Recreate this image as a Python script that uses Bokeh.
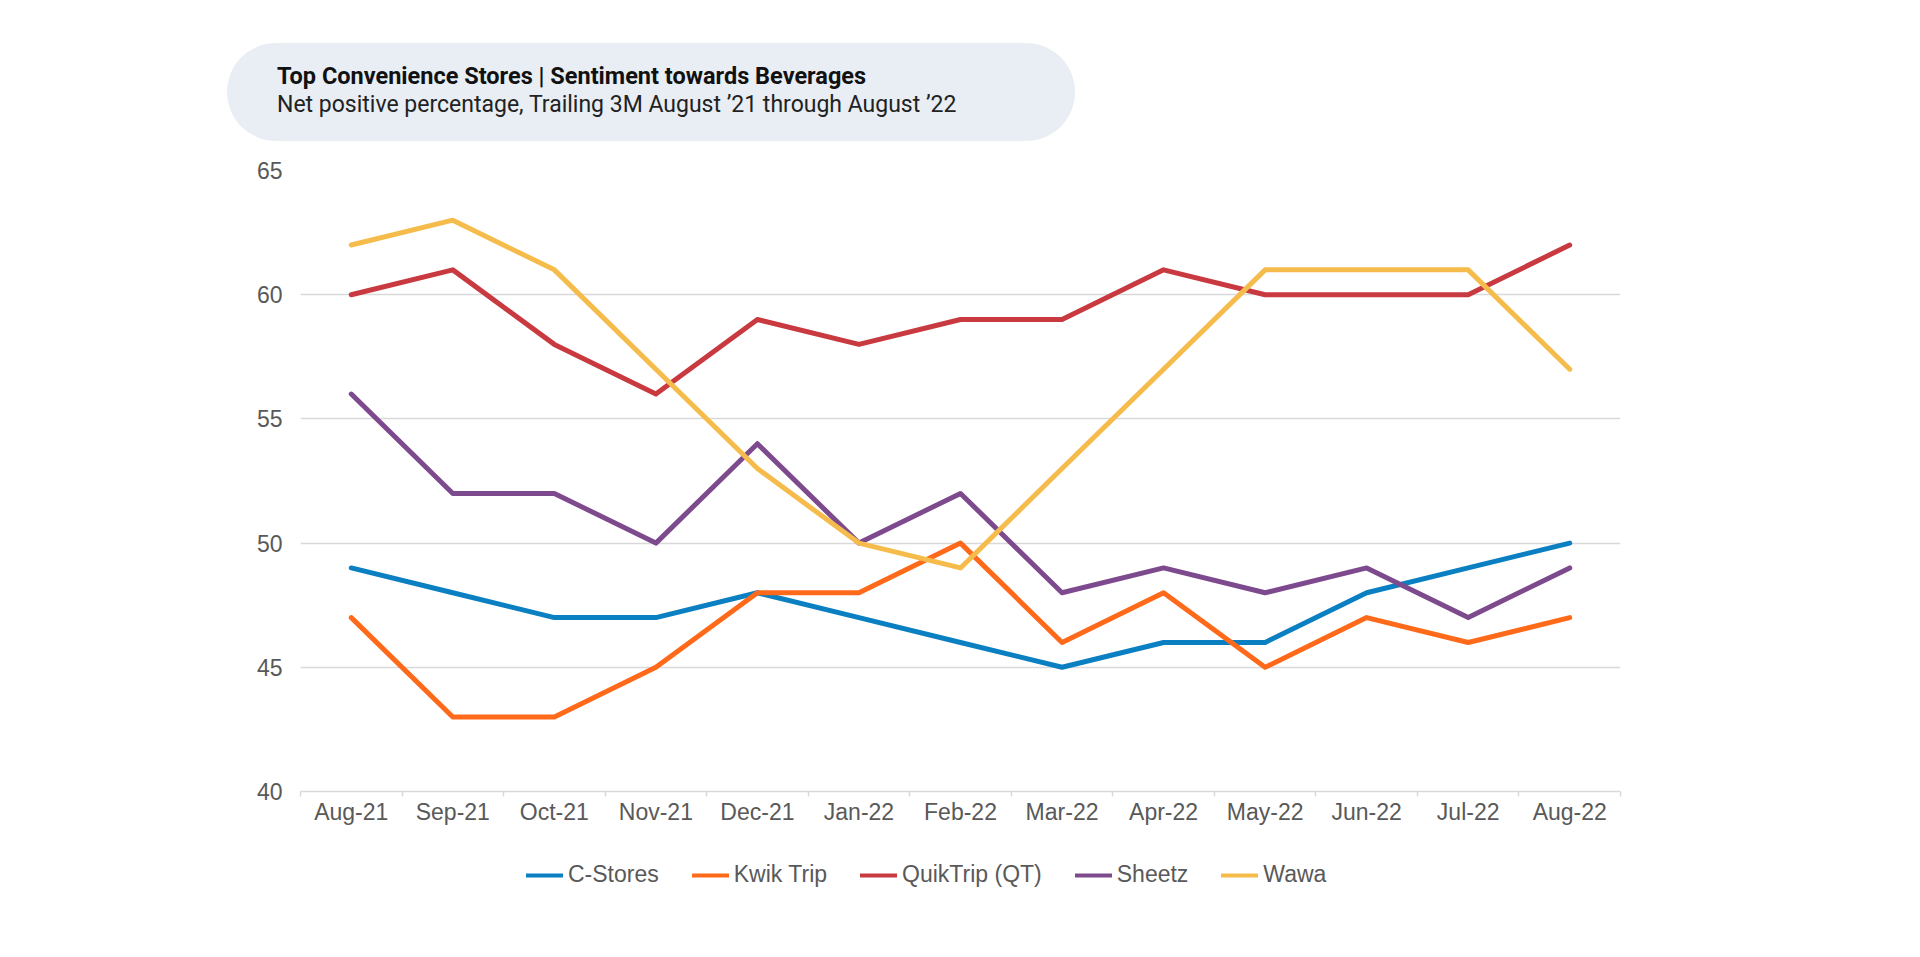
from bokeh.plotting import figure
from bokeh.layouts import column
from bokeh.models import (Range1d, FixedTicker, Legend, LegendItem, Div,
                          ColumnDataSource)
from bokeh.embed import file_html
from bokeh.resources import INLINE

# ---------------- data ----------------
months = ["Aug-21", "Sep-21", "Oct-21", "Nov-21", "Dec-21", "Jan-22", "Feb-22",
          "Mar-22", "Apr-22", "May-22", "Jun-22", "Jul-22", "Aug-22"]
c_stores = [49, 48, 47, 47, 48, 47, 46, 45, 46, 46, 48, 49, 50]
kwik_trip = [47, 43, 43, 45, 48, 48, 50, 46, 48, 45, 47, 46, 47]
quiktrip = [60, 61, 58, 56, 59, 58, 59, 59, 61, 60, 60, 60, 62]
sheetz = [56, 52, 52, 50, 54, 50, 52, 48, 49, 48, 49, 47, 49]
wawa = [62, 63, 61, 57, 53, 50, 49, 53, 57, 61, 61, 61, 57]
series_names = ["C-Stores", "Kwik Trip", "QuikTrip (QT)", "Sheetz", "Wawa"]
series_values = [c_stores, kwik_trip, quiktrip, sheetz, wawa]
y_ticks = [40, 45, 50, 55, 60, 65]
title_text = "Top Convenience Stores | Sentiment towards Beverages"
subtitle_text = "Net positive percentage, Trailing 3M August \u201921 through August \u201922"

# ---------------- styles ----------------
colors = ["#0A7FC1", "#FF6A1A", "#C83A40", "#7E4A8E", "#F6BC4B"]
TXT = "#595959"
GRID = "#D9D9D9"
FONT = "Liberation Sans"

W = 1904
HEAD_H = 150
ML, MR = 300, 284
FW, FH = W - ML - MR, 621
MT, MB = 20, 48
MAIN_H = MT + FH + MB
FOOT_H = 100

# ---------------- header (title pill) ----------------
header_html = (
    '<div style="position:relative;width:%dpx;height:%dpx;margin:0;padding:0;">'
    '<div style="position:absolute;left:227px;top:43px;width:848px;height:98px;'
    'border-radius:49px;background:#E8EEF4;"></div>'
    '<div style="position:absolute;left:277px;top:65px;font-family:Roboto;'
    'font-weight:bold;font-size:23.5px;line-height:23.5px;color:#111111;white-space:nowrap;">%s</div>'
    '<div style="position:absolute;left:277px;top:93px;font-family:Roboto;'
    'font-weight:normal;font-size:23px;line-height:23px;color:#222222;white-space:nowrap;">%s</div>'
    '</div>'
) % (W, HEAD_H, title_text, subtitle_text)
head = Div(text=header_html, width=W, height=HEAD_H, margin=0)

# ---------------- main chart ----------------
p = figure(width=W, height=MAIN_H, output_backend="svg", toolbar_location=None,
           x_range=Range1d(-0.5, len(months) - 0.5),
           y_range=Range1d(y_ticks[0], y_ticks[-1]),
           min_border_left=ML, min_border_right=MR,
           min_border_top=MT, min_border_bottom=MB, margin=0)
p.outline_line_color = None

xs = list(range(len(months)))

xa = p.xaxis[0]
xa.ticker = FixedTicker(ticks=xs, minor_ticks=[i - 0.5 for i in range(len(months) + 1)])
xa.major_label_overrides = {i: m for i, m in enumerate(months)}
xa.major_tick_line_color = None
xa.major_tick_out = 0
xa.major_tick_in = 0
xa.minor_tick_line_color = GRID
xa.minor_tick_line_width = 1.5
xa.minor_tick_out = 5
xa.minor_tick_in = 0
xa.axis_line_color = GRID
xa.axis_line_width = 1.5
xa.major_label_text_font = FONT
xa.major_label_text_font_size = "23px"
xa.major_label_text_color = TXT
xa.major_label_standoff = 2

ya = p.yaxis[0]
ya.ticker = FixedTicker(ticks=y_ticks)
ya.axis_line_color = None
ya.major_tick_line_color = None
ya.minor_tick_line_color = None
ya.major_tick_out = 0
ya.major_tick_in = 0
ya.major_label_text_font = FONT
ya.major_label_text_font_size = "23px"
ya.major_label_text_color = TXT
ya.major_label_standoff = 18

p.xgrid.grid_line_color = None
p.ygrid.grid_line_color = GRID
p.ygrid.grid_line_width = 1.5

for vals, col in zip(series_values, colors):
    src = ColumnDataSource(dict(x=xs, y=vals))
    p.line("x", "y", source=src, line_color=col, line_width=5,
           line_cap="round", line_join="round")

# ---------------- footer legend ----------------
# legend lives in its own strip; its key lines use the same series but the
# strip's y-range keeps them out of view so only the legend shows
foot = figure(width=W, height=FOOT_H, output_backend="svg", toolbar_location=None,
              x_range=Range1d(-0.5, len(months) - 0.5), y_range=Range1d(0, 1),
              x_axis_type=None, y_axis_type=None,
              min_border_left=ML, min_border_right=MR,
              min_border_top=0, min_border_bottom=0, margin=0)
foot.outline_line_color = None
foot.xgrid.visible = False
foot.ygrid.visible = False
items = []
for name, vals, col in zip(series_names, series_values, colors):
    src = ColumnDataSource(dict(x=xs, y=vals))
    r = foot.line("x", "y", source=src, line_color=col, line_width=4,
                  line_cap="round", line_join="round")
    items.append(LegendItem(label=name, renderers=[r]))

foot_top = HEAD_H + MAIN_H
legend_center_y = 876
legend = Legend(items=items, orientation="horizontal",
                location=(526 - ML, foot_top + FOOT_H - (legend_center_y + 12)),
                padding=0, margin=0, spacing=33, label_standoff=5,
                glyph_width=37, glyph_height=24, label_height=24,
                label_text_font=FONT, label_text_font_size="23px",
                label_text_color=TXT, border_line_color=None,
                background_fill_alpha=0)
foot.add_layout(legend, "center")

layout = column(head, p, foot, spacing=0, margin=0)
open("out.html", "w").write(file_html(layout, INLINE))
